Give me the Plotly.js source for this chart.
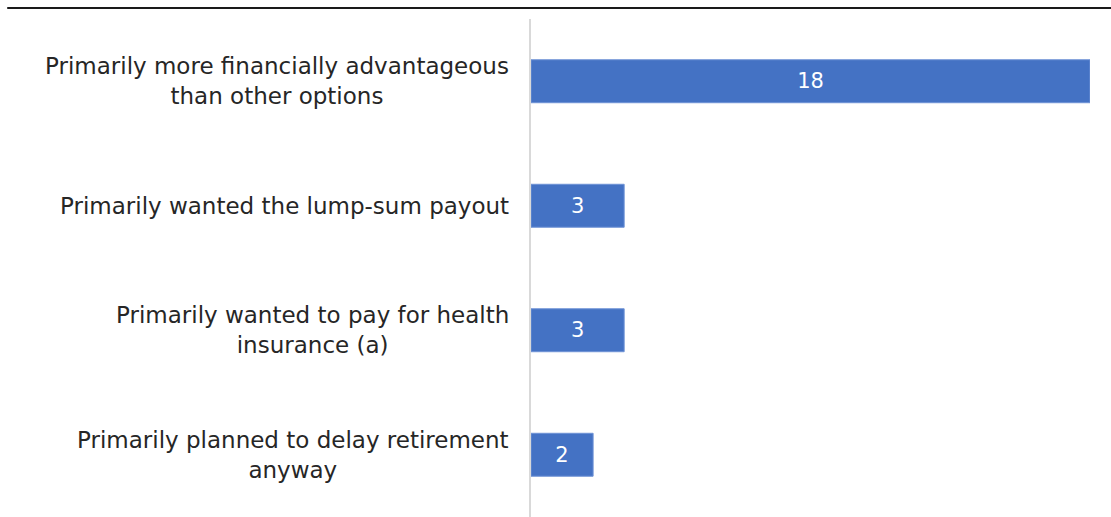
<!DOCTYPE html>
<html>
<head>
<meta charset="utf-8">
<script src="https://cdn.plot.ly/plotly-3.0.1.min.js"></script>
<style>
html,body{margin:0;padding:0;background:#fff;}
#chart{width:1111px;height:517px;}
</style>
</head>
<body>
<div id="chart"></div>
<script>
const categories = [
  "Primarily more financially advantageous<br>than other options",
  "Primarily wanted the lump-sum payout",
  "Primarily wanted to pay for health<br>insurance (a)",
  "Primarily planned to delay retirement<br>anyway"
];
const values = [18, 3, 3, 2];

const FONT = "DejaVu Sans, Open Sans, sans-serif";

const trace = {
  type: "bar",
  orientation: "h",
  y: categories,
  x: values,
  text: values.map(String),
  textposition: "inside",
  insidetextanchor: "middle",
  textfont: {family: FONT, size: 21, color: "#ffffff"},
  marker: {color: "#4472C4", line: {width: 1, color: "#6f93d6"}},
  width: 0.345,
  hoverinfo: "skip",
  cliponaxis: false
};

const annotations = categories.map(c => ({
  xref: "x", yref: "y", x: 0, y: c,
  text: c, showarrow: false,
  xanchor: "right", yanchor: "middle",
  xshift: -20, align: "center",
  font: {family: FONT, size: 23, color: "#262626"}
}));

const layout = {
  width: 1111, height: 517,
  margin: {l: 531, r: 21, t: 19, b: 0},
  paper_bgcolor: "#ffffff", plot_bgcolor: "#ffffff",
  showlegend: false,
  xaxis: {range: [0, 18], visible: false, fixedrange: true},
  yaxis: {
    type: "category", autorange: "reversed",
    showticklabels: false, ticks: "",
    showgrid: false, zeroline: false,
    showline: true, linecolor: "#d9d9d9", linewidth: 2
  },
  annotations: annotations,
  shapes: [{
    type: "line", xref: "paper", yref: "paper",
    x0: -0.937, x1: 1.04, y0: 1.022, y1: 1.022,
    line: {color: "#1a1a1a", width: 2}
  }]
};

Plotly.newPlot("chart", [trace], layout, {staticPlot: true, displayModeBar: false});
</script>
</body>
</html>
